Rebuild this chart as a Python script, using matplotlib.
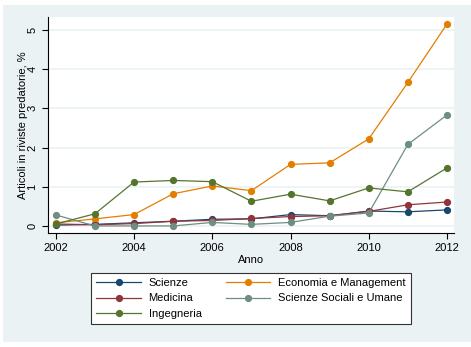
import numpy as np
import matplotlib.pyplot as plt
from matplotlib.patches import Rectangle

plt.rcParams['font.family'] = ['Liberation Sans', 'DejaVu Sans']

# DATI
anni = [2002, 2003, 2004, 2005, 2006, 2007, 2008, 2009, 2010, 2011, 2012]
scienze = [0.02, 0.04, 0.08, 0.12, 0.17, 0.18, 0.29, 0.26, 0.38, 0.36, 0.41]
economia = [0.08, 0.18, 0.29, 0.82, 1.02, 0.90, 1.57, 1.61, 2.22, 3.66, 5.15]
medicina = [0.05, 0.03, 0.06, 0.12, 0.14, 0.19, 0.24, 0.26, 0.37, 0.54, 0.61]
sociali = [0.28, 0.00, 0.00, 0.00, 0.09, 0.04, 0.09, 0.25, 0.33, 2.08, 2.83]
ingegneria = [0.05, 0.31, 1.12, 1.16, 1.13, 0.63, 0.81, 0.64, 0.97, 0.87, 1.48]

# FIGURA
fig = plt.figure(figsize=(4.71, 3.47), dpi=100, facecolor='white')
fig.patches.append(Rectangle((3 / 471, 5 / 347), 468 / 471, 337 / 347,
                             transform=fig.transFigure, facecolor='#EAF2F3',
                             edgecolor='none', zorder=-10))

ax = fig.add_axes([48 / 471, 114 / 347, 406 / 471, 216 / 347])
ax.set_facecolor('white')

serie = [
    ('Scienze', scienze, '#1A476F'),
    ('Medicina', medicina, '#90353B'),
    ('Ingegneria', ingegneria, '#55752F'),
    ('Economia e Management', economia, '#E37E00'),
    ('Scienze Sociali e Umane', sociali, '#6E8E84'),
]
# ordine di disegno come nel grafico originale
for nome, valori, colore in [serie[0], serie[3], serie[1], serie[4], serie[2]]:
    ax.plot(anni, valori, '-o', color=colore, linewidth=0.9, markersize=4.2,
            label=nome)

ax.set_xlim(2001.8, 2012.18)
ax.set_ylim(-0.18, 5.33)
ax.set_xticks([2002, 2004, 2006, 2008, 2010, 2012])
ax.set_yticks([0, 1, 2, 3, 4, 5])
ax.grid(axis='y', color='#EAF2F3', linewidth=1.2)
ax.set_axisbelow(True)

for lato in ['top', 'right']:
    ax.spines[lato].set_visible(False)
ax.spines['left'].set_color('black')
ax.spines['bottom'].set_color('black')
ax.spines['left'].set_linewidth(0.8)
ax.spines['bottom'].set_linewidth(0.8)

ax.tick_params(axis='both', labelsize=8, length=4, width=0.8, direction='out')
for lab in ax.get_yticklabels():
    lab.set_rotation(90)
    lab.set_va('center')

ax.set_xlabel('Anno', fontsize=8, labelpad=1)
ax.set_ylabel('Articoli in riviste predatorie, %', fontsize=8, labelpad=0)

# LEGENDA
handles, labels = ax.get_legend_handles_labels()
ordine = ['Scienze', 'Medicina', 'Ingegneria', 'Economia e Management',
          'Scienze Sociali e Umane']
h = [handles[labels.index(n)] for n in ordine]
leg = fig.legend(h, ordine, loc='center', bbox_to_anchor=(0.533, 0.14),
                 ncol=2, fontsize=8, frameon=True, fancybox=False,
                 framealpha=1, handlelength=4.0, columnspacing=2.2,
                 labelspacing=0.5, borderpad=0.45, handletextpad=0.7)
leg.get_frame().set_edgecolor('#333333')
leg.get_frame().set_linewidth(0.8)

fig.savefig('out.png', dpi=100, facecolor=fig.get_facecolor())
